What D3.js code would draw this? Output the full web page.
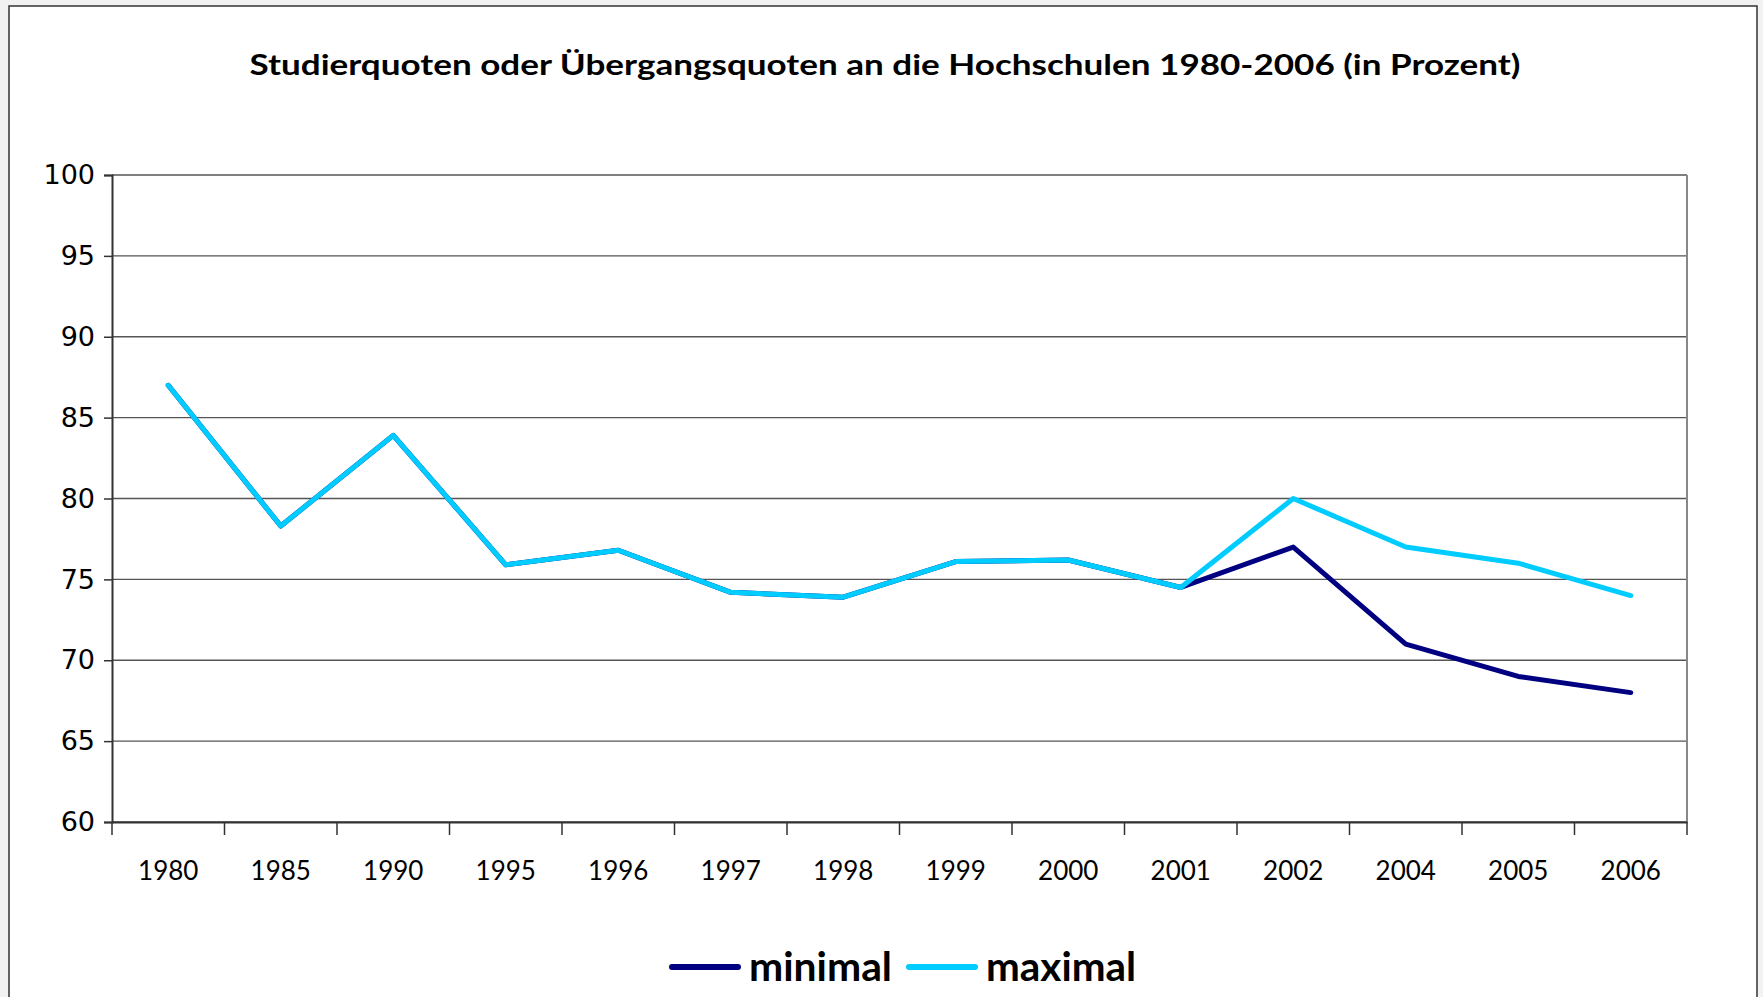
<!DOCTYPE html>
<html>
<head>
<meta charset="utf-8">
<script src="https://cdn.jsdelivr.net/npm/d3@7"></script>
<style>
  html, body { margin: 0; padding: 0; background: #f2f2f2; }
  svg { display: block; }
</style>
</head>
<body>
<svg id="chart" width="1763" height="997"></svg>
<script>
// categories + series
var years = ["1980", "1985", "1990", "1995", "1996", "1997", "1998", "1999", "2000", "2001", "2002", "2004", "2005", "2006"];
var minimal = [87.0, 78.3, 83.9, 75.9, 76.8, 74.2, 73.9, 76.1, 76.2, 74.5, 77.0, 71.0, 69.0, 68.0];
var maximal = [87.0, 78.3, 83.9, 75.9, 76.8, 74.2, 73.9, 76.1, 76.2, 74.5, 80.0, 77.0, 76.0, 74.0];
var yTicks = [60, 65, 70, 75, 80, 85, 90, 95, 100];

var svg = d3.select("#chart");
var m = { left: 112, right: 1687, top: 175, bottom: 822 };

// outer chart frame
svg.append("rect")
	.attr("x", 9).attr("y", 6)
	.attr("width", 1748).attr("height", 1000)
	.attr("fill", "#fff")
	.attr("stroke", "#333").attr("stroke-width", 1.5);

var x = d3.scaleBand().domain(years).range([m.left, m.right]);
var y = d3.scaleLinear().domain([60, 100]).range([m.bottom, m.top]);

// gridlines
svg.append("g").selectAll("line")
	.data(yTicks)
	.enter().append("line")
		.attr("x1", m.left).attr("x2", m.right)
		.attr("y1", function(d) { return y(d); })
		.attr("y2", function(d) { return y(d); })
		.attr("stroke", "#555").attr("stroke-width", 1.3);

// right border of plot
svg.append("line")
	.attr("x1", m.right).attr("x2", m.right)
	.attr("y1", m.top).attr("y2", m.bottom)
	.attr("stroke", "#888").attr("stroke-width", 2);

// y axis
var yAxis = svg.append("g")
	.attr("transform", "translate(" + m.left + ",0)")
	.call(d3.axisLeft(y).tickValues(yTicks).tickSize(8).tickPadding(9));
yAxis.selectAll("text")
	.attr("font-family", "DejaVu Sans, Verdana, sans-serif")
	.attr("font-size", 27)
	.attr("fill", "#000");

// x axis: ticks on band edges
var xAxis = svg.append("g")
	.attr("transform", "translate(0," + m.bottom + ")")
	.call(d3.axisBottom(x).tickSize(0).tickPadding(40));
xAxis.selectAll("text")
	.attr("font-family", "Lato, 'Open Sans', sans-serif")
	.attr("font-size", 26)
	.attr("fill", "#000");
svg.append("g").selectAll("line")
	.data(years.concat(["end"]))
	.enter().append("line")
		.attr("x1", function(d, i) { return m.left + i * x.step(); })
		.attr("x2", function(d, i) { return m.left + i * x.step(); })
		.attr("y1", m.bottom).attr("y2", m.bottom + 13)
		.attr("stroke", "#333").attr("stroke-width", 1.5);

svg.selectAll(".domain").attr("stroke", "#333").attr("stroke-width", 2);
svg.selectAll(".tick line").attr("stroke", "#333").attr("stroke-width", 1.5);

// lines
var line = d3.line()
	.x(function(d, i) { return x(years[i]) + x.bandwidth() / 2; })
	.y(function(d) { return y(d); });

var series = [
	{ name: "minimal", values: minimal, color: "#000080" },
	{ name: "maximal", values: maximal, color: "#00CCFF" }
];

svg.selectAll("path.serie")
	.data(series)
	.enter().append("path")
		.attr("class", "serie")
		.attr("d", function(d) { return line(d.values); })
		.attr("fill", "none")
		.attr("stroke", function(d) { return d.color; })
		.attr("stroke-width", 5)
		.attr("stroke-linejoin", "round")
		.attr("stroke-linecap", "round");

// title
svg.append("text")
	.attr("x", 885).attr("y", 75)
	.attr("text-anchor", "middle")
	.attr("font-family", "Lato, 'Open Sans', sans-serif")
	.attr("font-weight", "bold")
	.attr("font-size", 29)
	.attr("textLength", 1271)
	.attr("lengthAdjust", "spacingAndGlyphs")
	.text("Studierquoten oder Übergangsquoten an die Hochschulen 1980-2006 (in Prozent)");

// legend
var legX = [672, 909];
var legW = [143, 150];
var leg = svg.append("g").selectAll("g")
	.data(series)
	.enter().append("g")
		.attr("transform", function(d, i) { return "translate(" + legX[i] + ",967)"; });
leg.append("line")
	.attr("x1", 0).attr("x2", 66)
	.attr("y1", 0).attr("y2", 0)
	.attr("stroke", function(d) { return d.color; })
	.attr("stroke-width", 6)
	.attr("stroke-linecap", "round");
leg.append("text")
	.attr("x", 77).attr("y", 14)
	.attr("font-family", "Lato, 'Open Sans', sans-serif")
	.attr("font-weight", "bold")
	.attr("font-size", 40)
	.attr("textLength", function(d, i) { return legW[i]; })
	.attr("lengthAdjust", "spacingAndGlyphs")
	.text(function(d) { return d.name; });
</script>
</body>
</html>
